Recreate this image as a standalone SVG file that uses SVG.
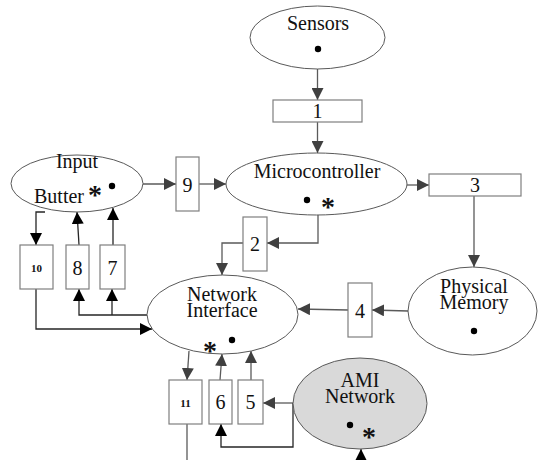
<svg xmlns="http://www.w3.org/2000/svg" width="538" height="460" viewBox="0 0 538 460">
<style>
.el{fill:#fff;stroke:#595959;stroke-width:1}
.bx{fill:#fff;stroke:#7f7f7f;stroke-width:1.2}
.t{font-family:'Liberation Serif','DejaVu Serif',serif;font-size:20px;fill:#111;text-anchor:middle}
.s{font-family:'Liberation Serif','DejaVu Serif',serif;font-size:11px;font-weight:bold;fill:#111;text-anchor:middle}
.ast{font-family:'Liberation Serif','DejaVu Serif',serif;font-size:28px;font-weight:bold;fill:#111;text-anchor:middle}
.g{fill:none;stroke:#5a5a5a;stroke-width:1.3;marker-end:url(#ag)}
.k{fill:none;stroke:#262626;stroke-width:1.3;marker-end:url(#ak)}
.n{fill:none;stroke:#5a5a5a;stroke-width:1.3}
</style>
<defs>
<marker id="ag" markerUnits="userSpaceOnUse" markerWidth="12" markerHeight="12" refX="12" refY="6" orient="auto"><path d="M0,0 L12,6 L0,12 z" fill="#404040"/></marker>
<marker id="ak" markerUnits="userSpaceOnUse" markerWidth="12" markerHeight="12" refX="12" refY="6" orient="auto"><path d="M0,0 L12,6 L0,12 z" fill="#000"/></marker>
</defs>
<g id="connectors">
<path class="g" d="M317.5,69 V100"/>
<path class="g" d="M317.5,122 V153"/>
<path class="g" d="M407,185 H429"/>
<path class="g" d="M474,196 V267"/>
<path class="g" d="M408,311 L372,310"/>
<path class="g" d="M348,310 L298,309"/>
<path class="g" d="M318,215 V243 H267"/>
<path class="g" d="M243,243 H222 V275"/>
<path class="g" d="M143,184 H176"/>
<path class="g" d="M199,184 H226"/>
<path class="k" d="M45,212 H36 V245"/>
<path class="k" d="M79,245 L77,212"/>
<path class="k" d="M113,245 V208"/>
<path class="k" d="M36,289 V329 H152"/>
<path class="k" d="M147,315 H79 V289"/>
<path class="k" d="M112,315 V289"/>
<path class="g" d="M189,351 L187,380"/>
<path class="g" d="M220,380 L222,354"/>
<path class="g" d="M251,380 V351"/>
<path class="g" d="M293,403 H263"/>
<path class="k" d="M293,403 V447 H221 V424"/>
<path class="n" d="M187,424 V460"/>
<path class="k" d="M361,460 V449"/>
</g>
<g id="sensors">
<ellipse class="el" cx="317.5" cy="37.5" rx="67.5" ry="31.5"/>
<text class="t" x="318" y="30">Sensors</text>
<circle cx="318" cy="49" r="3.2"/>
</g>
<g id="box1"><rect class="bx" x="273" y="100" width="89" height="22"/><text class="t" x="317.5" y="118">1</text></g>
<g id="microcontroller">
<ellipse class="el" cx="316.5" cy="184" rx="90.5" ry="31"/>
<text class="t" x="317" y="178">Microcontroller</text>
<circle cx="307" cy="200" r="3.2"/>
<text class="ast" x="328" y="216">*</text>
</g>
<g id="box3"><rect class="bx" x="429" y="174" width="92" height="22"/><text class="t" x="475" y="192">3</text></g>
<g id="physical-memory">
<ellipse class="el" cx="472.5" cy="311" rx="64.5" ry="44"/>
<text class="t"><tspan x="474" y="293">Physical</tspan><tspan x="474" dy="16">Memory</tspan></text>
<circle cx="474" cy="331" r="3.2"/>
</g>
<g id="box4"><rect class="bx" x="348" y="283" width="24" height="54"/><text class="t" x="360" y="318">4</text></g>
<g id="box2"><rect class="bx" x="243" y="217" width="24" height="54"/><text class="t" x="255" y="251">2</text></g>
<g id="box9"><rect class="bx" x="176" y="157" width="23" height="54"/><text class="t" x="187.5" y="192">9</text></g>
<g id="input-butter">
<ellipse class="el" cx="77" cy="183.5" rx="66" ry="28.5"/>
<text class="t" x="77" y="168">Input</text>
<text class="t" x="59" y="203">Butter</text>
<text class="ast" x="95" y="204">*</text>
<circle cx="112" cy="186" r="3.2"/>
</g>
<g id="box10"><rect class="bx" x="20" y="245" width="33" height="44"/><text class="s" x="36.5" y="272">10</text></g>
<g id="box8"><rect class="bx" x="66" y="245" width="23" height="44"/><text class="t" x="77.5" y="275">8</text></g>
<g id="box7"><rect class="bx" x="100" y="245" width="25" height="44"/><text class="t" x="112.5" y="275">7</text></g>
<g id="network-interface">
<ellipse class="el" cx="222.5" cy="314.5" rx="75.5" ry="39.5"/>
<text class="t"><tspan x="222" y="301">Network</tspan><tspan x="222" dy="16">Interface</tspan></text>
<text class="ast" x="210" y="360">*</text>
<circle cx="232" cy="340" r="3.2"/>
</g>
<g id="box11"><rect class="bx" x="169" y="380" width="33" height="44"/><text class="s" x="185.5" y="407">11</text></g>
<g id="box6"><rect class="bx" x="209" y="380" width="23" height="44"/><text class="t" x="220.5" y="409">6</text></g>
<g id="box5"><rect class="bx" x="238" y="380" width="25" height="44"/><text class="t" x="250.5" y="409">5</text></g>
<g id="ami-network">
<ellipse cx="360" cy="403.5" rx="67" ry="45.5" fill="#d9d9d9" stroke="#595959" stroke-width="1"/>
<text class="t"><tspan x="360" y="387">AMI</tspan><tspan x="360" dy="16">Network</tspan></text>
<circle cx="350" cy="425" r="3.2"/>
<text class="ast" x="369" y="446">*</text>
</g>
</svg>
